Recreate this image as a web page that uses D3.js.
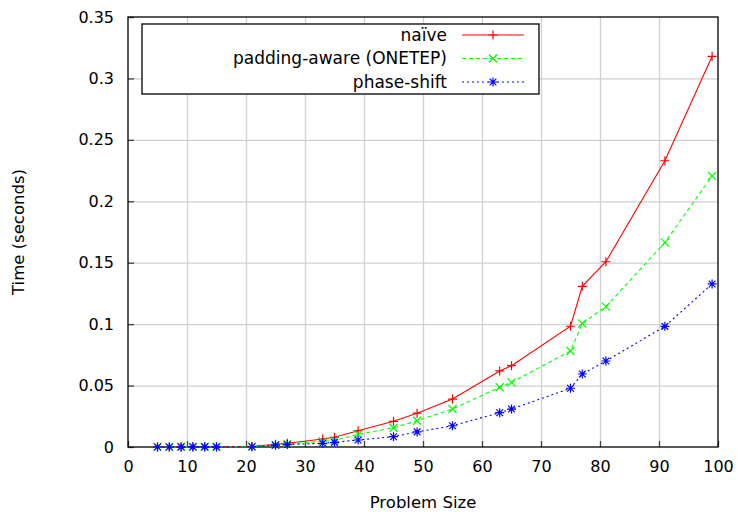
<!DOCTYPE html>
<html>
<head>
<meta charset="utf-8">
<script src="https://cdn.jsdelivr.net/npm/d3@7"></script>
<style>
body { margin: 0; background: #fff; }
text { font-family: "DejaVu Sans", sans-serif; font-size: 16.5px; fill: #000; }
.grid line { stroke: #d0d0d0; stroke-width: 1.3; }
.grid path { display: none; }
.axis path { display: none; }
.axis line { stroke: #444; stroke-width: 1.3; }
</style>
</head>
<body>
<div class="visualisation"></div>
<script>
// problem sizes along the x axis
var sizes = [5, 7, 9, 11, 13, 15, 21, 25, 27, 33, 35, 39, 45, 49, 55, 63, 65, 75, 77, 81, 91, 99];

// timings in seconds
var naive      = [0.0001, 0.0001, 0.0001, 0.0002, 0.0002, 0.0003, 0.0004, 0.0022, 0.003, 0.0065, 0.0079, 0.0133, 0.0209, 0.0275, 0.039, 0.0619, 0.0662, 0.0983, 0.1308, 0.1508, 0.233, 0.318];
var padAware   = [0.0001, 0.0001, 0.0001, 0.0001, 0.0002, 0.0002, 0.0003, 0.0017, 0.0025, 0.0046, 0.0054, 0.0103, 0.0157, 0.0214, 0.0309, 0.0486, 0.0526, 0.0781, 0.1005, 0.1143, 0.1664, 0.2206];
var phaseShift = [0.0000, 0.0000, 0.0001, 0.0001, 0.0001, 0.0001, 0.0002, 0.0015, 0.002, 0.003, 0.0038, 0.0057, 0.0084, 0.0123, 0.0173, 0.0279, 0.0309, 0.0478, 0.0594, 0.0700, 0.0982, 0.1327];

var seriesNames = ["naïve", "padding-aware (ONETEP)", "phase-shift"];

var xTicks = [0, 10, 20, 30, 40, 50, 60, 70, 80, 90, 100];
var yTicks = [0, 0.05, 0.1, 0.15, 0.2, 0.25, 0.3, 0.35];

var margin = {top: 17, right: 20, bottom: 65, left: 128},
	width = 738 - margin.left - margin.right,
	height = 512 - margin.top - margin.bottom;

var svg = d3.select(".visualisation").append("svg")
    .attr("width", width + margin.left + margin.right)
    .attr("height", height + margin.top + margin.bottom)
  .append("g")
    .attr("transform", "translate(" + margin.left + "," + margin.top + ")");

var x = d3.scaleLinear().domain([0, 100]).range([0, width]);
var y = d3.scaleLinear().domain([0, 0.35]).range([height, 0]);

// grid lines (interior only)
svg.append("g")
	.attr("class", "grid")
	.attr("transform", "translate(0," + height + ")")
	.call(d3.axisBottom(x).tickValues(xTicks.slice(1, -1)).tickSize(-height).tickFormat(""));

svg.append("g")
	.attr("class", "grid")
	.call(d3.axisLeft(y).tickValues(yTicks.slice(1, -1)).tickSize(-width).tickFormat(""));

// axes with short inward ticks
svg.append("g")
	.attr("class", "axis")
	.attr("transform", "translate(0," + height + ")")
	.call(d3.axisBottom(x).tickValues(xTicks).tickSize(-6).tickPadding(14).tickFormat(d3.format("d")));

svg.append("g")
	.attr("class", "axis")
	.call(d3.axisLeft(y).tickValues(yTicks).tickSize(-6).tickPadding(14).tickFormat(d3.format("~g")));

svg.selectAll(".axis text").style("font-size", "16px").attr("fill", "#000");

// frame
svg.append("rect")
	.attr("width", width)
	.attr("height", height)
	.attr("fill", "none")
	.attr("stroke", "#000")
	.attr("stroke-width", 1.3);

// axis titles
svg.append("text")
	.attr("x", width / 2)
	.attr("y", height + 61)
	.attr("text-anchor", "middle")
	.text("Problem Size");

svg.append("text")
	.attr("transform", "translate(" + (-104) + "," + (height / 2) + ") rotate(-90)")
	.attr("text-anchor", "middle")
	.text("Time (seconds)");

// marker shapes
function plusPath(r){ return "M" + (-r) + ",0H" + r + "M0," + (-r) + "V" + r; }
function timesPath(r){ return "M" + (-r) + "," + (-r) + "L" + r + "," + r + "M" + (-r) + "," + r + "L" + r + "," + (-r); }
function starPath(r){ return plusPath(r) + timesPath(r * 0.75); }

var series = [
	{name: seriesNames[0], values: naive,      color: "#ff0000", dash: null,  marker: plusPath(4.5)},
	{name: seriesNames[1], values: padAware,   color: "#00ff00", dash: "4,3", marker: timesPath(4)},
	{name: seriesNames[2], values: phaseShift, color: "#0000ff", dash: "2,3", marker: starPath(4.5)}
];

var line = d3.line()
	.x(function(d){ return x(d[0]); })
	.y(function(d){ return y(d[1]); });

series.forEach(function(s){
	var pts = sizes.map(function(v, i){ return [v, s.values[i]]; });

	svg.append("path")
		.datum(pts)
		.attr("fill", "none")
		.attr("stroke", s.color)
		.attr("stroke-width", 1.1)
		.attr("stroke-dasharray", s.dash)
		.attr("d", line);

	svg.append("g").selectAll("path")
		.data(pts)
		.enter().append("path")
		.attr("transform", function(d){ return "translate(" + x(d[0]) + "," + y(d[1]) + ")"; })
		.attr("d", s.marker)
		.attr("fill", "none")
		.attr("stroke", s.color)
		.attr("stroke-width", 1.2);
});

// legend
var legend = svg.append("g").attr("transform", "translate(14,7)");

legend.append("rect")
	.attr("width", 397)
	.attr("height", 70)
	.attr("fill", "#fff")
	.attr("stroke", "#000")
	.attr("stroke-width", 1.3);

var rows = legend.selectAll(".row")
	.data(series)
	.enter().append("g")
	.attr("class", "row")
	.attr("transform", function(d, i){ return "translate(0," + (11 + i * 23.5) + ")"; });

rows.append("text")
	.attr("x", 305)
	.attr("dy", "0.35em")
	.attr("text-anchor", "end")
	.style("font-size", "17px")
	.text(function(d){ return d.name; });

rows.append("line")
	.attr("x1", 320)
	.attr("x2", 382)
	.attr("stroke", function(d){ return d.color; })
	.attr("stroke-width", 1.1)
	.attr("stroke-dasharray", function(d){ return d.dash; });

rows.append("path")
	.attr("transform", "translate(351,0)")
	.attr("d", function(d){ return d.marker; })
	.attr("fill", "none")
	.attr("stroke", function(d){ return d.color; })
	.attr("stroke-width", 1.2);
</script>
</body>
</html>
